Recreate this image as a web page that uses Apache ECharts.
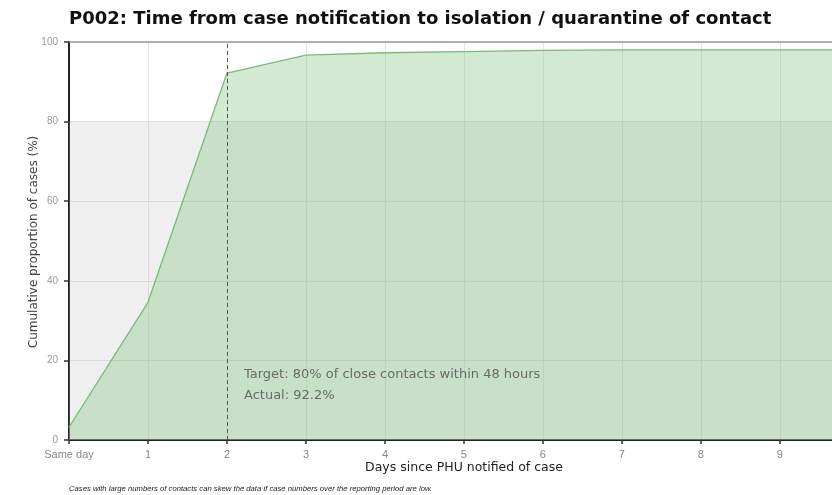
<!DOCTYPE html>
<html><head><meta charset="utf-8">
<script src="https://cdn.jsdelivr.net/npm/echarts@6/dist/echarts.min.js"></script>
<style>html,body{margin:0;padding:0;background:#fff}#c{width:832px;height:495px}</style>
</head><body><div id="c"></div>
<script>
const days = [0, 1, 2, 3, 4, 5, 6, 7, 8, 9, 10];
const cumulative = [3.2, 34.6, 92.2, 96.7, 97.3, 97.6, 97.9, 98.0, 98.0, 98.0, 98.0];
const xTickLabels = ['Same day', '1', '2', '3', '4', '5', '6', '7', '8', '9', '10'];
const targetPct = 80;
const targetDay = 2;
const titleText = 'P002: Time from case notification to isolation / quarantine of contact';
const xName = 'Days since PHU notified of case';
const yName = 'Cumulative proportion of cases (%)';
const noteLines = ['Target: 80% of close contacts within 48 hours', 'Actual: 92.2%'];
const footnote = 'Cases with large numbers of contacts can skew the data if case numbers over the reporting period are low.';

const chart = echarts.init(document.getElementById('c'));
chart.setOption({
  animation: false,
  title: { text: titleText, left: 69, top: 10, padding: 0,
    textStyle: { fontFamily: 'DejaVu Sans', fontSize: 18, fontWeight: 'bold', color: '#111' } },
  grid: { left: 69, top: 42, bottom: 55, right: 0 },
  xAxis: {
    type: 'value', min: 0, max: 9.66, interval: 1,
    axisLine: { onZero: false, lineStyle: { color: '#222', width: 2 } },
    axisTick: { show: true, length: 4, lineStyle: { color: '#333', width: 1.5 } },
    axisLabel: { fontSize: 11, color: '#888', margin: 9, showMaxLabel: false,
      formatter: v => (Number.isInteger(v) ? xTickLabels[v] : '') },
    splitLine: { show: true, lineStyle: { color: '#e4e4e4', width: 1 } }
  },
  yAxis: {
    type: 'value', min: 0, max: 100, interval: 20,
    axisLine: { show: true, lineStyle: { color: '#222', width: 2 } },
    axisTick: { show: true, length: 5, lineStyle: { color: '#333', width: 1.5 } },
    axisLabel: { fontSize: 10, color: '#999', margin: 11 },
    splitLine: { show: true, lineStyle: { color: '#e4e4e4', width: 1 } }
  },
  graphic: [
    { type: 'line', shape: { x1: 69, y1: 42, x2: 832, y2: 42 }, style: { stroke: '#999', lineWidth: 1.5 }, z: 10 },
    { type: 'text', x: 464, y: 468, z: 10,
      style: { text: xName, fill: '#222', font: '12.5px "DejaVu Sans"', align: 'center', verticalAlign: 'middle' } },
    { type: 'text', x: 34, y: 242, rotation: Math.PI / 2, z: 10,
      style: { text: yName, fill: '#444', font: '12px "DejaVu Sans"', align: 'center', verticalAlign: 'middle' } },
    { type: 'text', left: 244, top: 364, z: 10,
      style: { text: noteLines.join('\n'), fill: '#6a6a6a', font: '13px "DejaVu Sans"', lineHeight: 21 } },
    { type: 'text', left: 69, top: 485, z: 10,
      style: { text: footnote, fill: '#222', font: 'italic 7.7px "Liberation Sans", Arial' } }
  ],
  series: [{
    type: 'line',
    data: days.map((d, i) => [d, cumulative[i]]),
    symbol: 'none',
    clip: true,
    lineStyle: { color: '#72bf74', width: 1.3 },
    areaStyle: { color: 'rgba(128,198,128,0.52)', origin: 'start' },
    markArea: {
      silent: true,
      itemStyle: { color: 'rgba(190,190,190,0.24)' },
      data: [[{ xAxis: 0, yAxis: 0 }, { xAxis: 9.66, yAxis: targetPct }]]
    },
    markLine: {
      silent: true, symbol: 'none', label: { show: false },
      lineStyle: { color: '#555', type: [4, 3], width: 1 },
      data: [[{ coord: [targetDay, 0] }, { coord: [targetDay, 100] }]]
    }
  }]
});
</script></body></html>
